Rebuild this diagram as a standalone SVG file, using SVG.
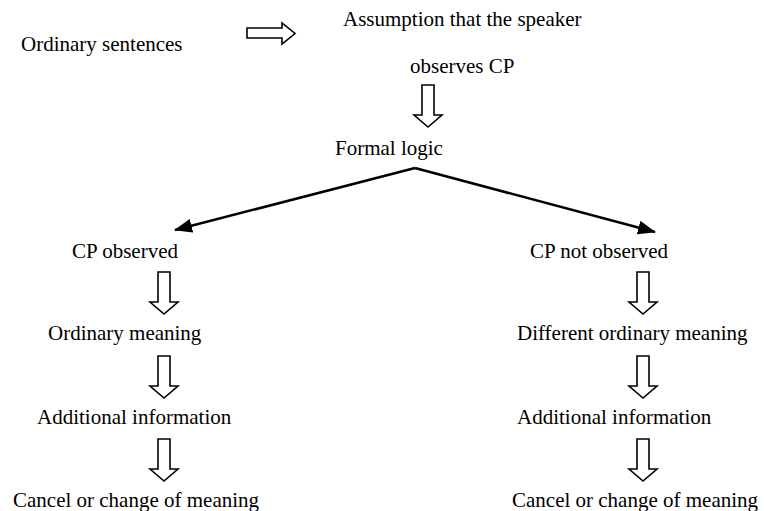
<svg xmlns="http://www.w3.org/2000/svg" width="764" height="511" viewBox="0 0 764 511">
<style>
text{font-family:"Liberation Serif","Times New Roman",serif;font-size:21px;fill:#000}
.blk{fill:#fff;stroke:#000;stroke-width:1.6;stroke-linejoin:miter}
.ln{stroke:#000;stroke-width:2.5;fill:none}
</style>
<defs>
<marker id="ah" markerUnits="userSpaceOnUse" markerWidth="18" markerHeight="14" refX="17" refY="7" orient="auto">
<path d="M0,0 L18,7 L0,14 Z" fill="#000"/>
</marker>
<path id="down" class="blk" d="M-6,0 H6 V30 H14 L0,42 L-14,30 H-6 Z"/>
</defs>
<rect width="764" height="511" fill="#fff"/>
<g id="connectors">
<path class="blk" d="M247,28 H282 V23 L295,33.5 L282,44 V38 H247 Z"/>
<use href="#down" x="428" y="85"/>
<path class="ln" d="M415,168 L175,230" marker-end="url(#ah)"/>
<path class="ln" d="M415,168 L655,232" marker-end="url(#ah)"/>
<use href="#down" x="164" y="272"/>
<use href="#down" x="164" y="356"/>
<use href="#down" x="164" y="439"/>
<use href="#down" x="643" y="272"/>
<use href="#down" x="643" y="356"/>
<use href="#down" x="643" y="439"/>
</g>
<g id="n-ordinary-sentences"><text x="21" y="51">Ordinary sentences</text></g>
<g id="n-assumption"><text x="343" y="26">Assumption that the speaker</text><text x="410" y="73">observes CP</text></g>
<g id="n-formal-logic"><text x="335" y="155">Formal logic</text></g>
<g id="n-cp-observed"><text x="72" y="258">CP observed</text></g>
<g id="n-ordinary-meaning"><text x="48" y="340">Ordinary meaning</text></g>
<g id="n-additional-left"><text x="37" y="424">Additional information</text></g>
<g id="n-cancel-left"><text x="13" y="507">Cancel or change of meaning</text></g>
<g id="n-cp-not-observed"><text x="530" y="258">CP not observed</text></g>
<g id="n-different-meaning"><text x="517" y="340">Different ordinary meaning</text></g>
<g id="n-additional-right"><text x="517" y="424">Additional information</text></g>
<g id="n-cancel-right"><text x="512" y="507">Cancel or change of meaning</text></g>
</svg>
